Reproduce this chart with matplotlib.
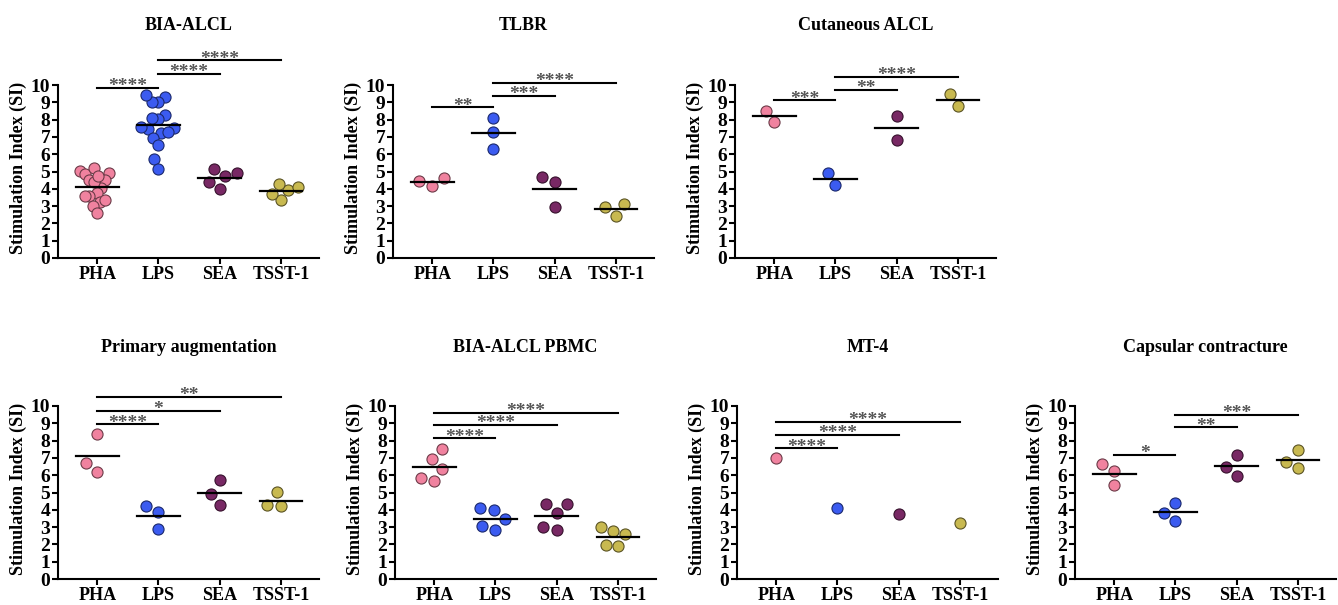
import numpy as np
import matplotlib
matplotlib.use('Agg')
import matplotlib.pyplot as plt
from matplotlib.colors import to_rgb

plt.rcParams['font.family'] = ['Liberation Serif', 'DejaVu Serif']
plt.rcParams['font.weight'] = 'bold'

groups = ['PHA', 'LPS', 'SEA', 'TSST-1']
colors = ['#F0829F', '#3B5BF0', '#782864', '#C8B950']

titles = ['BIA-ALCL', 'TLBR', 'Cutaneous ALCL',
          'Primary augmentation', 'BIA-ALCL PBMC', 'MT-4', 'Capsular contracture']

# stimulation index per group (PHA, LPS, SEA, TSST-1)
bia_alcl = [
    [5.02, 4.85, 5.21, 4.92, 4.53, 4.5, 4.05, 3.76, 3.57, 3.22, 3.6, 3.02, 3.33, 2.63, 4.4, 4.75],
    [9.28, 8.99, 9.03, 9.44, 8.26, 8.02, 8.12, 7.44, 7.25, 7.54, 7.6, 7.31, 6.96, 6.53, 5.74, 5.16],
    [4.73, 5.17, 4.92, 3.99, 4.38],
    [3.95, 4.30, 4.11, 3.37, 3.70],
]
tlbr = [[4.61, 4.17, 4.46], [8.07, 7.26, 6.32], [4.4, 4.69, 2.93], [3.12, 2.44, 2.93]]
cutaneous = [[8.51, 7.85], [4.9, 4.21], [8.21, 6.84], [9.47, 8.8]]
primary_aug = [[8.38, 6.2, 6.69], [3.89, 4.2, 2.89], [4.3, 5.74, 4.91], [4.24, 5.01, 4.3]]
pbmc = [[6.33, 6.94, 7.51, 5.64, 5.83], [3.44, 3.98, 4.13, 2.83, 3.06],
        [4.32, 3.79, 4.32, 2.83, 2.98], [3.02, 2.58, 2.77, 1.91, 1.97]]
mt4 = [[6.98], [4.11], [3.75], [3.21]]
capsular = [[6.23, 6.65, 5.41], [4.42, 3.82, 3.35], [7.17, 6.5, 5.95], [7.46, 6.79, 6.42]]

# significance bars: (group a, group b, height, stars)
bia_alcl_sig = [(0, 1, 9.83, '****'), (1, 2, 10.64, '****'), (1, 3, 11.42, '****')]
tlbr_sig = [(0, 1, 8.7, '**'), (1, 2, 9.37, '***'), (1, 3, 10.13, '****')]
cutaneous_sig = [(0, 1, 9.12, '***'), (1, 2, 9.73, '**'), (1, 3, 10.48, '****')]
primary_aug_sig = [(0, 1, 8.94, '****'), (0, 2, 9.71, '*'), (0, 3, 10.52, '**')]
pbmc_sig = [(0, 1, 8.13, '****'), (0, 2, 8.91, '****'), (0, 3, 9.62, '****')]
mt4_sig = [(0, 1, 7.55, '****'), (0, 2, 8.34, '****'), (0, 3, 9.08, '****')]
capsular_sig = [(0, 1, 7.19, '*'), (1, 2, 8.76, '**'), (1, 3, 9.48, '***')]

datasets = [bia_alcl, tlbr, cutaneous, primary_aug, pbmc, mt4, capsular]
sigs = [bia_alcl_sig, tlbr_sig, cutaneous_sig, primary_aug_sig, pbmc_sig, mt4_sig, capsular_sig]

W, H = 1338, 605
# axes placement in pixels: (left, y of zero line)
lefts = [58, 393, 735, 58, 395, 737, 1075]
zeros = [258, 258, 258, 579, 579, 579, 579]
ax_w, ax_h = 261, 173
XMIN, XMAX = -0.64, 3.62
ppx = ax_w / (XMAX - XMIN)
ppy = ax_h / 10.0


def swarm(vals, diam, max_px=17):
    # beeswarm offsets (data units), squeezed into a fixed column width
    vals = np.asarray(vals, float)
    placed = []
    out = np.zeros(len(vals))
    for k in np.argsort(vals):
        y = vals[k] * ppy
        cands = [0.0]
        for px, py in placed:
            dy = y - py
            if abs(dy) < diam:
                dx = np.sqrt(diam ** 2 - dy ** 2)
                cands += [px + dx, px - dx]
        cands.sort(key=lambda c: (round(abs(c), 3), c))
        for c in cands:
            if all((c - px) ** 2 + (y - py) ** 2 >= diam ** 2 - 1e-6 for px, py in placed):
                break
        placed.append((c, y))
        out[k] = c
    widest = np.abs(out).max()
    if widest > max_px:
        out = out * max_px / widest
    return out / ppx


fig = plt.figure(figsize=(W / 100, H / 100), dpi=100)

for n, (data, sig, title) in enumerate(zip(datasets, sigs, titles)):
    ax = fig.add_axes([lefts[n] / W, (H - zeros[n]) / H, ax_w / W, ax_h / H])
    for i, vals in enumerate(data):
        off = swarm(vals, 14)
        edge = tuple(c * 0.45 for c in to_rgb(colors[i]))
        ax.scatter(i + off, vals, s=64, color=colors[i], edgecolors=[edge],
                   linewidths=0.8, zorder=3, clip_on=False)
        if len(vals) > 1:
            m = np.mean(vals)
            ax.plot([i - 0.35, i + 0.35], [m, m], color='black', lw=1.6, zorder=4)
    for a, b, y, lab in sig:
        ax.plot([a, b], [y, y], color='black', lw=1.5, clip_on=False)
        ax.annotate(lab, xy=((a + b) / 2, y), xytext=(0, -2.4), textcoords='offset points',
                    ha='center', va='baseline', fontsize=14, color='#555555',
                    annotation_clip=False)

    ax.set_xlim(XMIN, XMAX)
    ax.set_ylim(0, 10)
    ax.set_yticks(range(11))
    ax.set_xticks(range(4))
    ax.set_xticklabels(groups)
    for s in ['top', 'right']:
        ax.spines[s].set_visible(False)
    for s in ['left', 'bottom']:
        ax.spines[s].set_linewidth(1.5)
    ax.tick_params(axis='both', direction='out', length=4, width=1.5, pad=1.5)
    ax.tick_params(axis='y', labelsize=14)
    ax.tick_params(axis='x', labelsize=13, pad=2)
    for lbl in ax.get_xticklabels() + ax.get_yticklabels():
        lbl.set_fontweight('bold')
    ax.text(-40 / ax_w, 0.52, 'Stimulation Index (SI)', transform=ax.transAxes,
            rotation=90, ha='center', va='center', fontsize=13, fontweight='bold')
    ax.text(0.5, 1 + 59 / ax_h, title, transform=ax.transAxes,
            ha='center', va='center', fontsize=13, fontweight='bold')

fig.savefig('out.png', dpi=100)
